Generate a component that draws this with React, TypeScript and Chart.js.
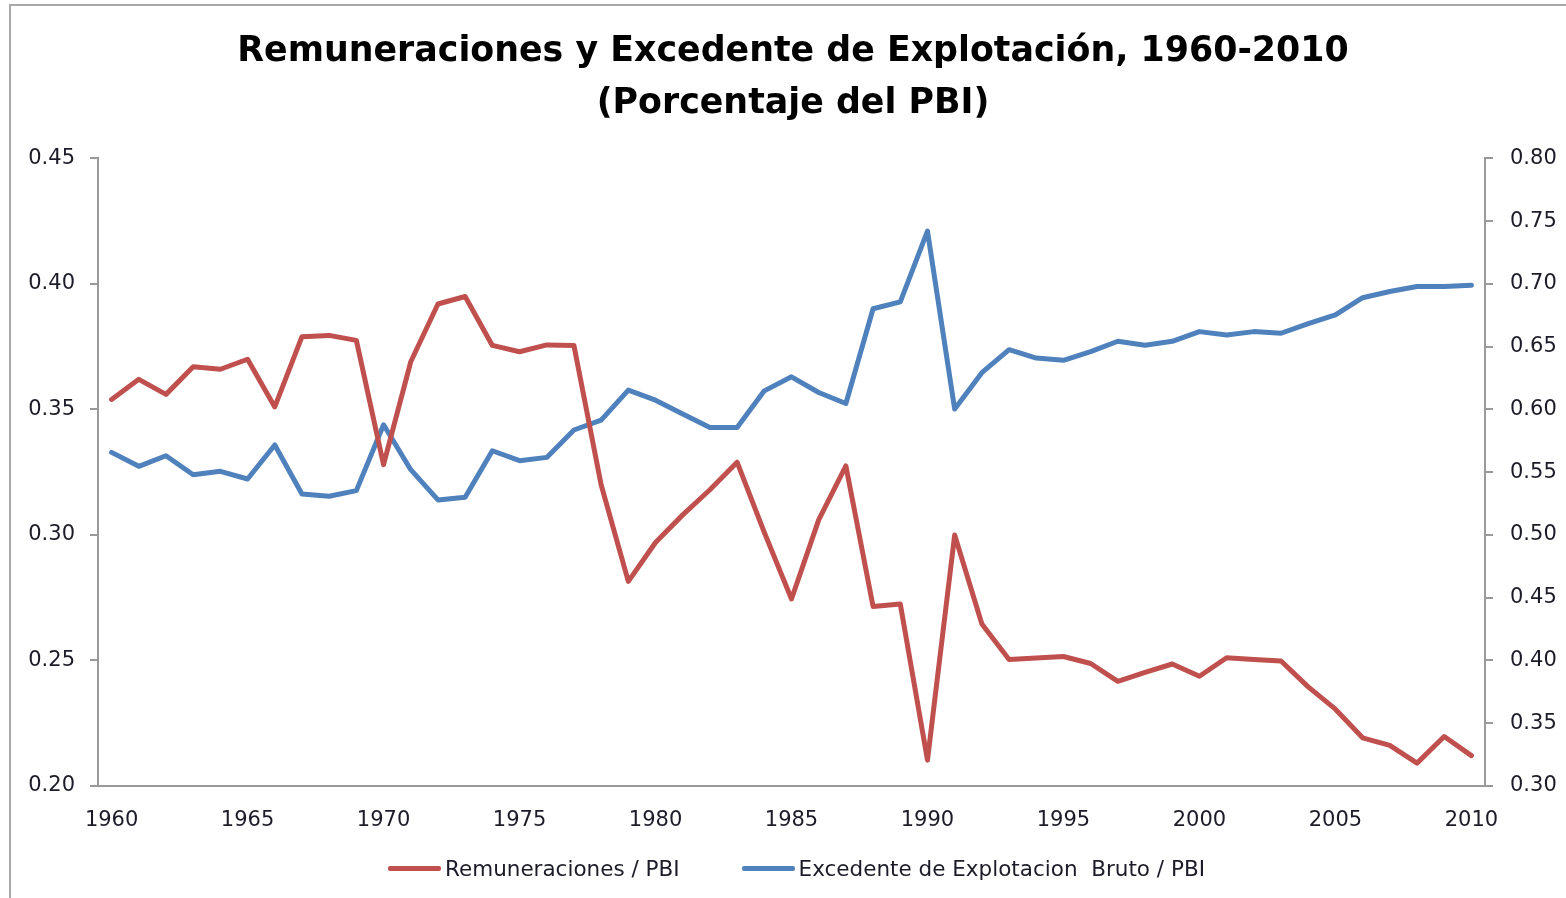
import React, { useEffect, useRef } from 'react';
import { Chart, registerables } from 'chart.js';

Chart.register(...registerables);

const years: string[] = [
  '1960', '1961', '1962', '1963', '1964', '1965', '1966', '1967', '1968', '1969',
  '1970', '1971', '1972', '1973', '1974', '1975', '1976', '1977', '1978', '1979',
  '1980', '1981', '1982', '1983', '1984', '1985', '1986', '1987', '1988', '1989',
  '1990', '1991', '1992', '1993', '1994', '1995', '1996', '1997', '1998', '1999',
  '2000', '2001', '2002', '2003', '2004', '2005', '2006', '2007', '2008', '2009', '2010',
];

const remuneraciones: number[] = [
  0.354, 0.362, 0.356, 0.367, 0.366, 0.370, 0.351, 0.379, 0.3795, 0.3775,
  0.328, 0.369, 0.392, 0.395, 0.3755, 0.373, 0.3757, 0.3755, 0.320, 0.2815,
  0.297, 0.308, 0.318, 0.329, 0.301, 0.2745, 0.306, 0.3275, 0.2715, 0.2725,
  0.2103, 0.300, 0.2645, 0.2504, 0.251, 0.2516, 0.2488, 0.2417, 0.2453, 0.2486,
  0.2437, 0.2511, 0.2504, 0.2498, 0.2395, 0.2306, 0.2192, 0.2162, 0.2091, 0.2197, 0.2121,
];

const excedente: number[] = [
  0.5658, 0.5547, 0.5631, 0.548, 0.5507, 0.5446, 0.5717, 0.5327, 0.5308, 0.5353,
  0.5878, 0.552, 0.5279, 0.530, 0.5671, 0.5592, 0.5618, 0.5836, 0.5915, 0.6154,
  0.6074, 0.5963, 0.5857, 0.5857, 0.6148, 0.626, 0.6135, 0.6047, 0.6802, 0.6857,
  0.742, 0.6003, 0.6293, 0.6476, 0.6409, 0.6391, 0.6461, 0.6543, 0.6512, 0.6543,
  0.662, 0.6593, 0.662, 0.6607, 0.6684, 0.6753, 0.689, 0.694, 0.698, 0.698, 0.699,
];

const titleLines: string[] = [
  'Remuneraciones y Excedente de Explotación, 1960-2010',
  '(Porcentaje del PBI)',
];

const seriesNames: string[] = ['Remuneraciones / PBI', 'Excedente de Explotacion  Bruto / PBI'];
const seriesColors: string[] = ['#C0504D', '#4F81BD'];

const textColor = '#1c1c28';
const axisColor = '#9a9a9a';
const tickFont = { family: 'DejaVu Sans', size: 21 };

export default function App() {
  const ref = useRef<HTMLCanvasElement>(null);

  useEffect(() => {
    const chart = new Chart(ref.current as HTMLCanvasElement, {
      type: 'line',
      data: {
        labels: years,
        datasets: [
          {
            label: seriesNames[0],
            data: remuneraciones,
            borderColor: seriesColors[0],
            backgroundColor: seriesColors[0],
            borderWidth: 5,
            pointRadius: 0,
            tension: 0,
            borderJoinStyle: 'round',
            borderCapStyle: 'round',
            yAxisID: 'y',
          },
          {
            label: seriesNames[1],
            data: excedente,
            borderColor: seriesColors[1],
            backgroundColor: seriesColors[1],
            borderWidth: 5,
            pointRadius: 0,
            tension: 0,
            borderJoinStyle: 'round',
            borderCapStyle: 'round',
            yAxisID: 'y1',
          },
        ],
      },
      options: {
        responsive: false,
        animation: false,
        devicePixelRatio: 1,
        layout: { padding: { top: 0, bottom: 0, left: 0, right: 0 } },
        plugins: {
          tooltip: { enabled: false },
          legend: { display: false },
          title: {
            display: true,
            text: titleLines,
            color: '#000',
            font: { family: 'DejaVu Sans', weight: 'bold', size: 34.8, lineHeight: 1.5 },
            padding: { top: 26, bottom: 28 },
          },
        },
        scales: {
          x: {
            type: 'category',
            offset: true,
            grid: { display: false, drawTicks: false },
            border: { display: true, color: axisColor, width: 2 },
            ticks: {
              autoSkip: false,
              maxRotation: 0,
              minRotation: 0,
              padding: 22,
              color: textColor,
              font: tickFont,
              callback: function (this: any, value: any) {
                const lbl = this.getLabelForValue(value);
                return Number(lbl) % 5 === 0 ? lbl : '';
              },
            },
            afterFit: (s: any) => {
              s.height = 112;
            },
          },
          y: {
            position: 'left',
            min: 0.2,
            max: 0.45,
            grid: { drawOnChartArea: false, drawTicks: true, tickLength: 8, color: axisColor, lineWidth: 2 },
            border: { display: true, color: axisColor, width: 2 },
            ticks: {
              stepSize: 0.05,
              padding: 15,
              color: textColor,
              font: tickFont,
              callback: (v: any) => Number(v).toFixed(2),
            },
            afterFit: (s: any) => {
              s.width = 98;
            },
          },
          y1: {
            position: 'right',
            min: 0.3,
            max: 0.8,
            grid: { drawOnChartArea: false, drawTicks: true, tickLength: 8, color: axisColor, lineWidth: 2 },
            border: { display: true, color: axisColor, width: 2 },
            ticks: {
              stepSize: 0.05,
              padding: 17,
              color: textColor,
              font: tickFont,
              callback: (v: any) => Number(v).toFixed(2),
            },
            afterFit: (s: any) => {
              s.width = 101;
            },
          },
        },
      },
    });
    return () => chart.destroy();
  }, []);

  return (
    <div
      style={{
        position: 'fixed',
        left: 0,
        top: 0,
        width: 1566,
        height: 898,
        overflow: 'hidden',
        background: '#fff',
      }}
    >
      <div
        style={{
          position: 'absolute',
          left: 9,
          top: 4,
          width: 1700,
          height: 1000,
          borderLeft: '2px solid #a8a8a8',
          borderTop: '2px solid #a8a8a8',
        }}
      />
      <canvas
        ref={ref}
        width={1586}
        height={898}
        style={{ position: 'absolute', left: 0, top: 0, width: 1586, height: 898 }}
      />
      <div
        style={{
          position: 'absolute',
          left: 0,
          top: 853,
          width: 1593,
          height: 30,
          display: 'flex',
          justifyContent: 'center',
          alignItems: 'center',
          gap: 62,
          fontFamily: 'DejaVu Sans',
          fontSize: 21.5,
          color: textColor,
          whiteSpace: 'pre',
        }}
      >
        {seriesNames.map((name, i) => (
          <div key={name} style={{ display: 'flex', alignItems: 'center' }}>
            <span
              style={{
                display: 'inline-block',
                width: 53,
                height: 5,
                background: seriesColors[i],
                borderRadius: 2,
                marginRight: 4,
              }}
            />
            <span>{name}</span>
          </div>
        ))}
      </div>
    </div>
  );
}
